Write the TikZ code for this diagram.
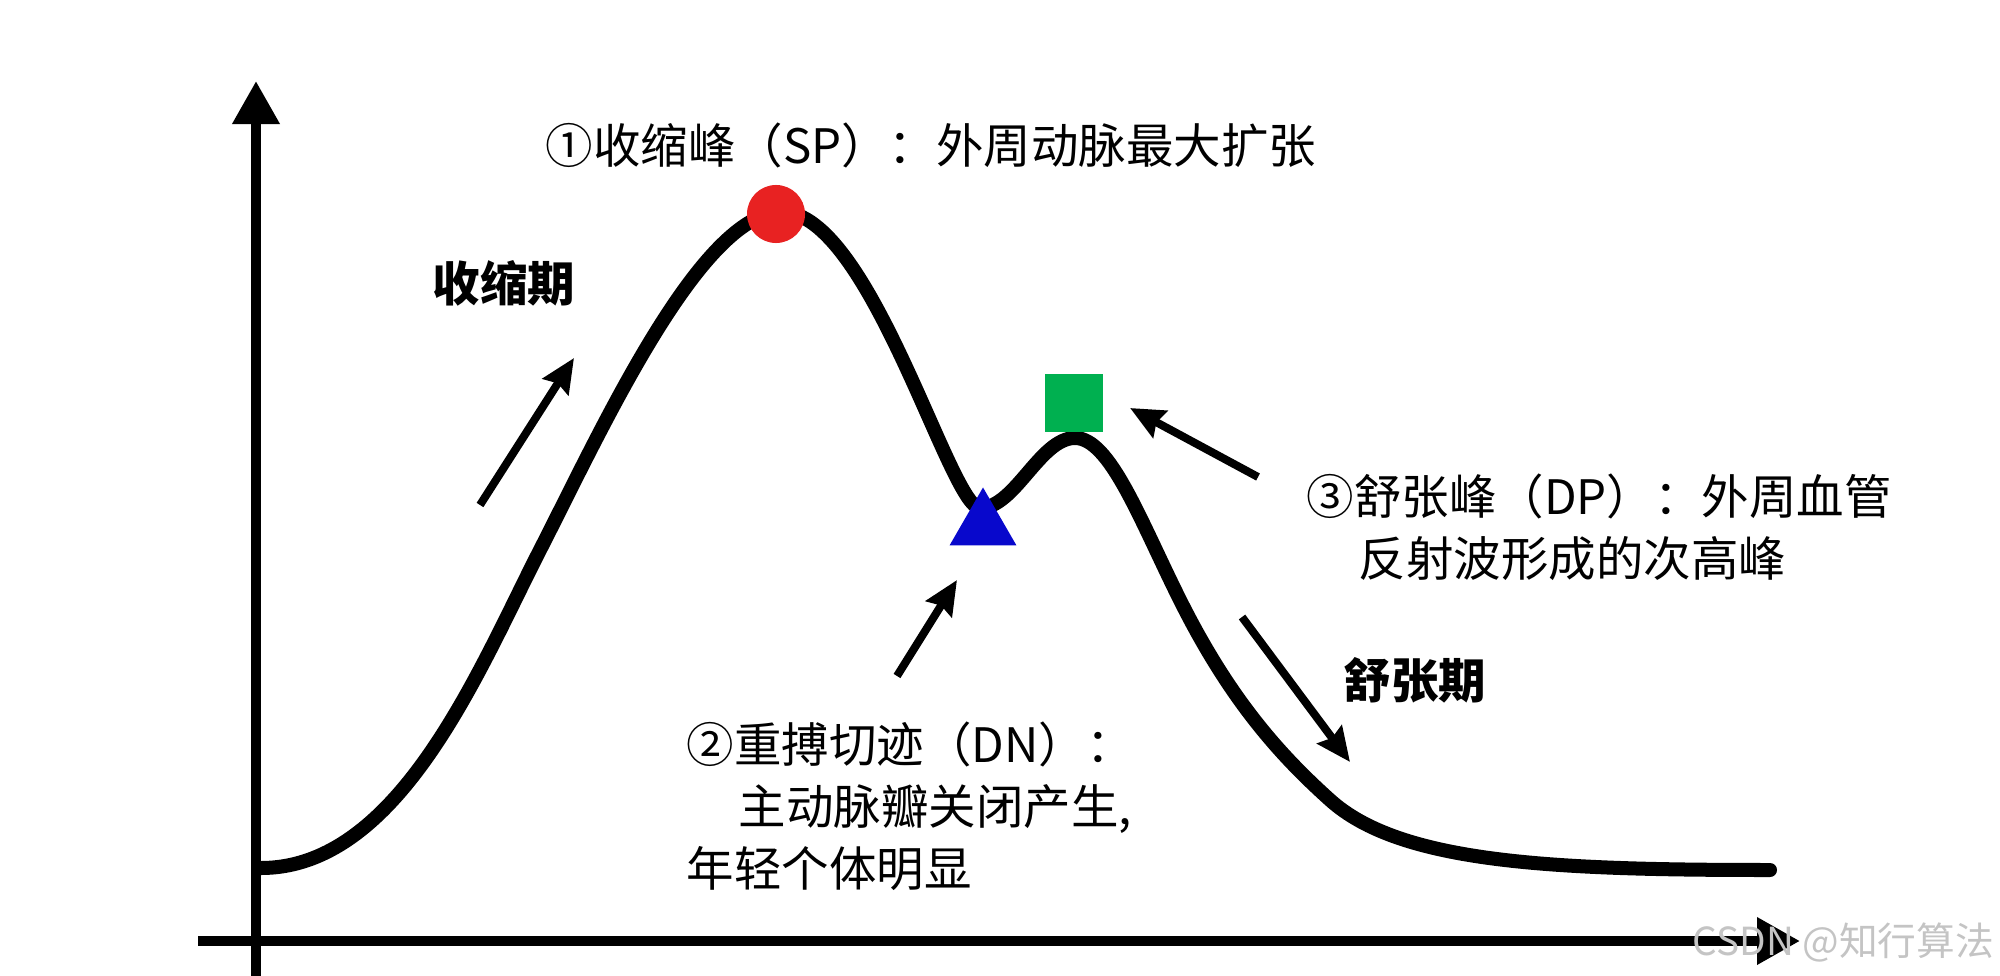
\documentclass[tikz,border=0pt]{standalone}
\usepackage{fontspec}
\setmainfont{Noto Sans CJK SC}
\usetikzlibrary{arrows.meta, shapes.geometric}
\definecolor{spRed}{HTML}{E82222}
\definecolor{dnBlue}{HTML}{0808CC}
\definecolor{dpGreen}{HTML}{00B050}
\definecolor{waveInk}{HTML}{000000}
\definecolor{markGray}{HTML}{C4C4C4}

\begin{document}
\begin{tikzpicture}[
  x=0.01cm, y=-0.01cm,
  font=\fontsize{13.5pt}{17.6pt}\selectfont,
  axis/.style   ={line width=0.1cm, -{Triangle[length=0.43cm, width=0.45cm]}},
  wave/.style   ={draw=waveInk, line width=0.14cm, line cap=round, line join=round},
  pointer/.style={-{Stealth[length=0.34cm, width=0.3cm, inset=0.04cm]}, line width=0.08cm},
  lbl/.style    ={inner sep=0pt, anchor=west},
  multi/.style  ={inner sep=0pt, anchor=north west, align=left},
  phase/.style  ={lbl, font=\fontsize{13.5pt}{17.6pt}\selectfont\bfseries},
  spdot/.style  ={circle, fill=spRed, minimum size=0.58cm, inner sep=0pt},
  dntri/.style  ={regular polygon, regular polygon sides=3, fill=dnBlue,
                  minimum size=0.77cm, inner sep=0pt},
  dpsq/.style   ={rectangle, fill=dpGreen, minimum size=0.57cm, inner sep=0pt},
]
\useasboundingbox (0,0) rectangle (2000,976);

% ----- Axes -----
\coordinate (yBot) at (256,976);
\coordinate (yTop) at (256,81);
\coordinate (xLeft) at (198,941);
\coordinate (xRight) at (1800,941);
\draw[axis] (yBot) -- (yTop);
\draw[axis] (xLeft) -- (xRight);

% ----- Pulse wave -----
\coordinate (wStart) at (261,868);
\coordinate (wRise)  at (540,550);
\coordinate (wPeak)  at (782,212);
\coordinate (wNotch) at (980,508);
\coordinate (wDia)   at (1075,438);
\coordinate (wFall)  at (1180,600);
\coordinate (wKnee)  at (1330,800);
\coordinate (wEnd)   at (1770,870);
\draw[wave] (wStart)
  .. controls (400,868) and (480,667) .. (wRise)
  .. controls (600,433) and (700,212) .. (wPeak)
  .. controls (870,212) and (950,508) .. (wNotch)
  .. controls (1015,508) and (1040,438) .. (wDia)
  .. controls (1110,438) and (1140,520) .. (wFall)
  .. controls (1230,700) and (1280,755) .. (wKnee)
  .. controls (1400,863) and (1550,870) .. (wEnd);

% ----- Feature markers -----
\node[spdot] (SP) at (776,214) {};
\node[dntri] (DN) at (983,526) {};
\node[dpsq]  (DP) at (1074,403) {};

% ----- Pointer arrows -----
\coordinate (sysTail) at (480,505);
\coordinate (sysTip)  at (574,358);
\coordinate (dnTail)  at (897,676);
\coordinate (dnTip)   at (957,580);
\coordinate (dpTail)  at (1258,477);
\coordinate (dpTip)   at (1130,408);
\coordinate (diaTail) at (1242,617);
\coordinate (diaTip)  at (1350,762);
\draw[pointer] (sysTail) -- (sysTip);
\draw[pointer] (dnTail) -- (dnTip);
\draw[pointer] (dpTail) -- (dpTip);
\draw[pointer] (diaTail) -- (diaTip);

% ----- Labels -----
\node[lbl] (SPTXT) at (545,145) {①收缩峰（SP）：外周动脉最大扩张};
\node[phase] (SYS) at (432,283) {收缩期};
\node[phase] (DIA) at (1343,680) {舒张期};
\node[multi] (DPTXT) at (1306,473)
  {③舒张峰（DP）：外周血管\\\hspace*{1.1em}反射波形成的次高峰};
\node[multi] (DNTXT) at (686,721)
  {②重搏切迹（DN）：\\\hspace*{1.1em}主动脉瓣关闭产生,\\年轻个体明显};

% ----- Watermark -----
\node[lbl, text=markGray, font=\fontsize{11pt}{13pt}\selectfont] (WM) at (1692,942)
  {CSDN @知行算法};

\end{tikzpicture}
\end{document}
